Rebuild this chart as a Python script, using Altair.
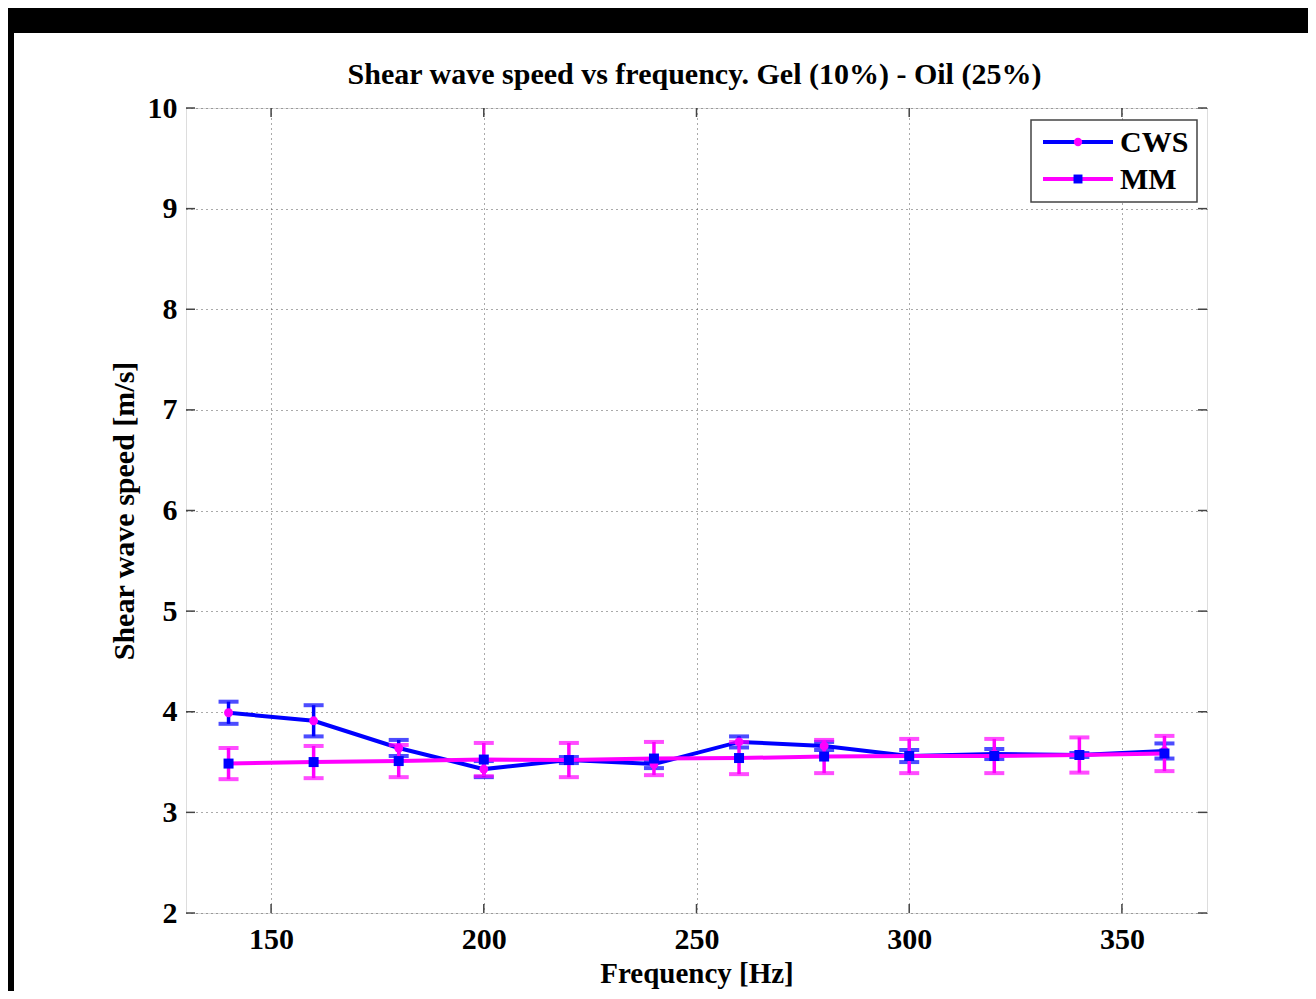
import altair as alt
import pandas as pd

# ---- data ----
freqs = [140, 160, 180, 200, 220, 240, 260, 280, 300, 320, 340, 360]
cws_mean = [3.99, 3.91, 3.64, 3.43, 3.52, 3.48, 3.70, 3.66, 3.56, 3.58, 3.57, 3.61]
cws_err = [0.11, 0.155, 0.08, 0.08, 0.03, 0.04, 0.055, 0.04, 0.06, 0.05, 0.02, 0.075]
mm_mean = [3.485, 3.50, 3.51, 3.525, 3.52, 3.535, 3.54, 3.555, 3.56, 3.56, 3.57, 3.585]
mm_err = [0.155, 0.16, 0.16, 0.165, 0.17, 0.165, 0.16, 0.165, 0.17, 0.17, 0.175, 0.175]
series_names = ["CWS", "MM"]
x_ticks = [150, 200, 250, 300, 350]
y_ticks = [2, 3, 4, 5, 6, 7, 8, 9, 10]
title_text = "Shear wave speed vs frequency. Gel (10%) - Oil (25%)"

BLUE = "#0000FF"
MAG = "#FF00FF"
FONT = "Liberation Serif"
W, H = 1021, 805
FS = 30

def frame(mean, err):
    return pd.DataFrame({
        "freq": freqs,
        "mean": mean,
        "lo": [m - e for m, e in zip(mean, err)],
        "hi": [m + e for m, e in zip(mean, err)],
    })

cws = frame(cws_mean, cws_err)
mm = frame(mm_mean, mm_err)
one = pd.DataFrame({"k": [0]})
xt = pd.DataFrame({"t": x_ticks})
yt = pd.DataFrame({"t": y_ticks})

xs = alt.Scale(domain=[130, 370], nice=False, zero=False)
ys = alt.Scale(domain=[2, 10], nice=False, zero=False)

xaxis = alt.Axis(values=x_ticks, format="d", title="Frequency [Hz]", grid=True, gridDash=[1, 4],
                 gridColor="#555", gridWidth=1, ticks=False, domain=False,
                 labelFont=FONT, labelFontWeight="bold", labelFontSize=FS, labelColor="black",
                 labelPadding=11, titleFont=FONT, titleFontWeight="bold", titleFontSize=29,
                 titleColor="black", titlePadding=5)
yaxis = alt.Axis(values=y_ticks, format="d", title="Shear wave speed [m/s]", grid=True, gridDash=[1, 4],
                 gridColor="#555", gridWidth=1, ticks=False, domain=False,
                 labelFont=FONT, labelFontWeight="bold", labelFontSize=FS, labelColor="black",
                 labelPadding=9, titleFont=FONT, titleFontWeight="bold", titleFontSize=FS,
                 titleColor="black", titlePadding=8)

X = alt.X("freq:Q", scale=xs, axis=xaxis)
Y = alt.Y("mean:Q", scale=ys, axis=yaxis)


def series(df, line_col, err_col, pt_col, shape, pt_size):
    base = alt.Chart(df)
    bars = base.mark_rule(color=err_col, strokeWidth=3.5).encode(
        x=alt.X("freq:Q", scale=xs), y=alt.Y("lo:Q", scale=ys), y2="hi:Q")
    cap_lo = base.mark_tick(color=err_col, orient="horizontal", size=20, thickness=4).encode(
        x=alt.X("freq:Q", scale=xs), y=alt.Y("lo:Q", scale=ys))
    cap_hi = base.mark_tick(color=err_col, orient="horizontal", size=20, thickness=4).encode(
        x=alt.X("freq:Q", scale=xs), y=alt.Y("hi:Q", scale=ys))
    line = base.mark_line(color=line_col, strokeWidth=4).encode(
        x=alt.X("freq:Q", scale=xs), y=alt.Y("mean:Q", scale=ys))
    pts = base.mark_point(filled=True, color=pt_col, shape=shape, size=pt_size, opacity=1).encode(
        x=alt.X("freq:Q", scale=xs), y=alt.Y("mean:Q", scale=ys))
    return [bars, cap_lo, cap_hi, line, pts]

# axes carrier (grid + labels)
axes_layer = alt.Chart(cws).mark_point(opacity=0).encode(x=X, y=Y)

# inward tick marks (MATLAB style box)
tk = dict(color="#444", strokeWidth=1.5)
xticks_bot = alt.Chart(xt).mark_rule(**tk).encode(
    x=alt.X("t:Q", scale=xs), y=alt.value(H), y2=alt.value(H - 9))
xticks_top = alt.Chart(xt).mark_rule(**tk).encode(
    x=alt.X("t:Q", scale=xs), y=alt.value(0), y2=alt.value(9))
yticks_l = alt.Chart(yt).mark_rule(**tk).encode(
    y=alt.Y("t:Q", scale=ys), x=alt.value(0), x2=alt.value(9))
yticks_r = alt.Chart(yt).mark_rule(**tk).encode(
    y=alt.Y("t:Q", scale=ys), x=alt.value(W), x2=alt.value(W - 9))

# black frame around the figure (screen capture border)
black_top = alt.Chart(one).mark_rect(color="black").encode(
    x=alt.value(-178), x2=alt.value(W + 101), y=alt.value(-100), y2=alt.value(-75))
black_left = alt.Chart(one).mark_rect(color="black").encode(
    x=alt.value(-178), x2=alt.value(-172), y=alt.value(-100), y2=alt.value(H + 78))

# title as text
title_mark = alt.Chart(one).mark_text(
    text=title_text, font=FONT, fontWeight="bold", fontSize=30, align="center",
    baseline="alphabetic", color="black").encode(x=alt.value(W / 2 - 2), y=alt.value(-24))

# manual legend (line with marker in the middle)
lx0, lx1, lxm, ltx = 857, 927, 892, 934
ly = [34, 71]
legend_box = alt.Chart(one).mark_rect(fill="white", stroke="#444", strokeWidth=1.5).encode(
    x=alt.value(845), x2=alt.value(1011), y=alt.value(12), y2=alt.value(94))
legend_layers = [legend_box]
leg_specs = [(series_names[0], BLUE, MAG, "circle", 70), (series_names[1], MAG, BLUE, "square", 80)]
for (name, lc, pc, shp, sz), yy in zip(leg_specs, ly):
    legend_layers.append(alt.Chart(one).mark_rule(color=lc, strokeWidth=4).encode(
        x=alt.value(lx0), x2=alt.value(lx1), y=alt.value(yy)))
    legend_layers.append(alt.Chart(one).mark_point(filled=True, color=pc, shape=shp, size=sz, opacity=1).encode(
        x=alt.value(lxm), y=alt.value(yy)))
    legend_layers.append(alt.Chart(one).mark_text(
        text=name, font=FONT, fontWeight="bold", fontSize=FS, align="left", baseline="middle",
        color="black").encode(x=alt.value(ltx), y=alt.value(yy + 1)))

layers = ([black_top, black_left, title_mark, axes_layer]
          + series(cws, BLUE, BLUE, MAG, "circle", 80)
          + series(mm, MAG, MAG, BLUE, "square", 100)
          + [xticks_bot, xticks_top, yticks_l, yticks_r]
          + legend_layers)

chart = alt.layer(*layers).properties(
    width=W, height=H,
    autosize=alt.AutoSizeParams(type="none"),
    padding={"left": 178, "top": 100, "right": 101, "bottom": 78},
).configure_view(stroke="#444", strokeWidth=1.5).configure(background="white")

chart.save("out.html", embed_options={"renderer": "svg", "actions": False})
